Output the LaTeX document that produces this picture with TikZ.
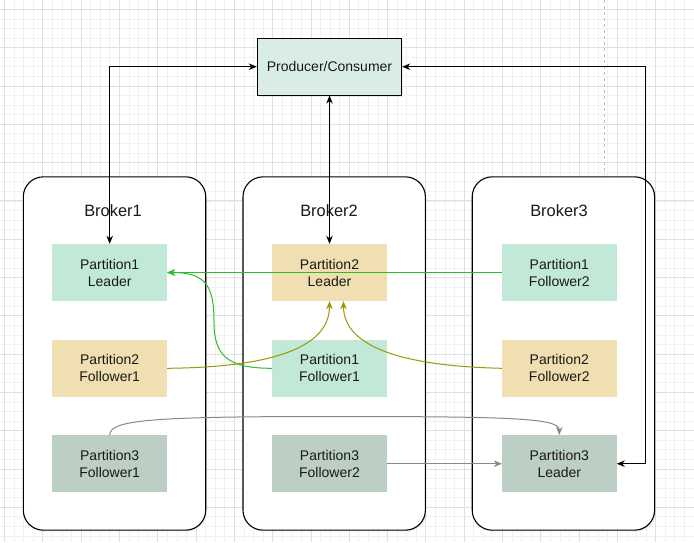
\documentclass[tikz,border=0pt]{standalone}
\usepackage{fontspec}
\setmainfont{Liberation Sans}
\usetikzlibrary{arrows.meta,shadows}
\definecolor{pgreen}{HTML}{C2E9D7}
\definecolor{ptan}{HTML}{F0DFB0}
\definecolor{pgray}{HTML}{BCCFC5}
\definecolor{pcfill}{HTML}{DAEDE5}
\definecolor{lgreen}{HTML}{2BBB2B}
\definecolor{lolive}{HTML}{999900}
\definecolor{lgray}{HTML}{888888}
\definecolor{gminor}{HTML}{F1F1F1}
\definecolor{gmajor}{HTML}{E0E0E0}
\tikzset{
  broker/.style={draw=black, line width=1.1pt, fill=white, rounded corners=20pt,
    minimum width=182.4pt, minimum height=353.3pt, inner sep=0pt,
    drop shadow={shadow xshift=1.5pt, shadow yshift=-1.5pt, opacity=0.12}},
  blabel/.style={font=\fontsize{16.4}{19}\selectfont, text=black!90, inner sep=0pt},
  part/.style={minimum width=114.5pt, minimum height=57pt, inner sep=0pt, align=center,
    font=\fontsize{14}{17}\selectfont, text=black!90},
  pcbox/.style={draw=black, line width=1pt, fill=pcfill, minimum width=144.4pt,
    minimum height=56.7pt, inner sep=0pt, font=\fontsize{14}{17}\selectfont, text=black!90,
    drop shadow={shadow xshift=1.5pt, shadow yshift=-1.5pt, opacity=0.15}},
  tip/.style={arrows={-Stealth[length=8pt,width=6.5pt,inset=2.5pt]}},
  both/.style={arrows={Stealth[length=8pt,width=6.5pt,inset=2.5pt]-Stealth[length=8pt,width=6.5pt,inset=2.5pt]}},
  blk/.style={draw=black, line width=1pt, both},
  grn/.style={draw=lgreen, line width=1pt, tip},
  olv/.style={draw=lolive, line width=1pt, tip},
  gry/.style={draw=lgray, line width=1pt, tip},
}
\begin{document}
\begin{tikzpicture}[x=1pt,y=-1pt]
\useasboundingbox (0,0) rectangle (694,542);
\fill[white] (0,0) rectangle (694,542);
% grid
\foreach \i [evaluate=\i as \gx using 4.45+\i*9.575] in {0,...,72}
  \draw[gminor, line width=0.6pt] (\gx,0) -- (\gx,542);
\foreach \j [evaluate=\j as \gy using 9.3+\j*9.575] in {0,...,55}
  \draw[gminor, line width=0.6pt] (0,\gy) -- (694,\gy);
\foreach \i [evaluate=\i as \gx using 4.45+\i*38.3] in {0,...,18}
  \draw[gmajor, line width=0.7pt] (\gx,0) -- (\gx,542);
\foreach \j [evaluate=\j as \gy using 9.3+\j*38.3] in {0,...,13}
  \draw[gmajor, line width=0.7pt] (0,\gy) -- (694,\gy);
\draw[black!25, line width=1pt, dash pattern=on 3pt off 3pt] (604,0) -- (604,175);

% brokers
\node[broker] (b1) at (114.5,353.5) {};
\node[broker] (b2) at (334.2,353.5) {};
\node[broker] (b3) at (563.4,353.5) {};
\node[blabel] (l1) at (113,211) {Broker1};
\node[blabel] (l2) at (329,211) {Broker2};
\node[blabel] (l3) at (559,211) {Broker3};

% producer
\node[pcbox] (pc) at (329.5,66.7) {Producer/Consumer};

% partitions
\node[part, fill=pgreen] (p1l)  at (109.7,272.5) {Partition1\\Leader};
\node[part, fill=ptan]   (p2f1) at (109.7,368.3) {Partition2\\Follower1};
\node[part, fill=pgray]  (p3f1) at (109.7,463.7) {Partition3\\Follower1};
\node[part, fill=ptan]   (p2l)  at (329.5,272.5) {Partition2\\Leader};
\node[part, fill=pgreen] (p1f1) at (329.5,368.3) {Partition1\\Follower1};
\node[part, fill=pgray]  (p3f2) at (329.5,463.7) {Partition3\\Follower2};
\node[part, fill=pgreen] (p1f2) at (559.3,272.5) {Partition1\\Follower2};
\node[part, fill=ptan]   (p2f2) at (559.3,368.3) {Partition2\\Follower2};
\node[part, fill=pgray]  (p3l)  at (559.3,463.7) {Partition3\\Leader};

% producer connectors
\coordinate (rc) at (645.5,66.7);
\draw[blk] (pc.west) -| (p1l.north);
\draw[blk] (pc.south) -- (p2l.north);
\draw[blk] (pc.east) -- (rc) |- (p3l.east);

% partition 1 replication
\draw[grn] (p1f2.west) -- (p1l.east);
\draw[grn] (p1f1.west) .. controls (228,368.3) and (214,356) .. (214,322)
  .. controls (214,286) and (206,272.5) .. (p1l.east);

% partition 2 replication
\draw[olv] (p2f1.east) .. controls (300,367) and (329.5,336) .. (p2l.south);
\draw[olv] (p2f2.west) .. controls (400,366) and (343.5,346) .. ([xshift=14pt]p2l.south);

% partition 3 replication
\draw[gry] (p3f1.north) .. controls (110,420) and (150,416.5) .. (330,416.5)
  .. controls (510,416.5) and (559.3,418) .. (p3l.north);
\draw[gry] (p3f2.east) -- (p3l.west);
\end{tikzpicture}
\end{document}
